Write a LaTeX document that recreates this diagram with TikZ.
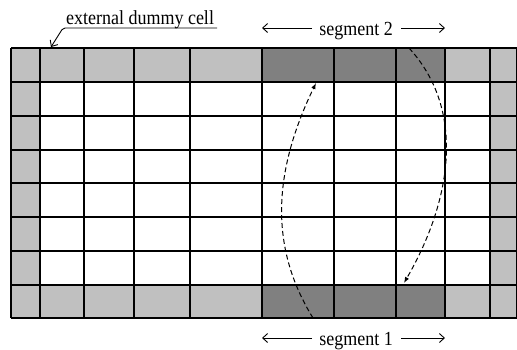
\documentclass[tikz,border=0pt]{standalone}
\usepackage{fontspec}
\setmainfont{Liberation Serif}
\usetikzlibrary{arrows.meta}
\definecolor{dummygray}{HTML}{C0C0C0}
\definecolor{seggray}{HTML}{808080}
% narrow setting of the label text
\newcommand{\narrowtext}[1]{\scalebox{0.9}[1]{#1}}
\begin{document}
\begin{tikzpicture}[x=1pt,y=-1pt,
  gridline/.style={line width=1.2pt,black},
  lbl/.style={inner sep=0pt,anchor=base,font=\fontsize{20}{22}\selectfont},
  spanarrow/.style={line width=0.9pt,-{Straight Barb[length=5pt,width=9pt]}},
  swaparrow/.style={line width=1pt,dash pattern=on 5pt off 3pt,-{Latex[length=6pt,width=4.5pt]}},
  leader/.style={line width=0.9pt,rounded corners=2pt,-{Straight Barb[length=5pt,width=9pt]}}]
\useasboundingbox (0,0) rectangle (517,349);

% cell fills: dummy frame, interior, and the two exchanged segments
\fill[dummygray] (11,48) rectangle (516.5,318);
\fill[white] (40,82) rectangle (490,285);
\fill[seggray] (262,48) rectangle (445,82);
\fill[seggray] (262,285) rectangle (445,318);

% grid lines
\foreach \gx in {11,40,84,134,190,262,334,396,445,490,516.5}
  \draw[gridline] (\gx,48) -- (\gx,318);
\foreach \gy in {48,82,116,150,183,217,251,285,318}
  \draw[gridline] (11,\gy) -- (516.5,\gy);

% label for the dummy cells with its leader line
\node[lbl] (dummy) at (140,24) {\narrowtext{external dummy cell}};
\coordinate (dummyend) at (217,28);
\coordinate (dummytip) at (51,47);
\draw[leader] (dummyend) -- (63,28) -- (dummytip);

% segment labels with span arrows
\node[lbl] (seg2) at (356,35) {\narrowtext{segment 2}};
\node[lbl] (seg1) at (356,345) {\narrowtext{segment 1}};
\coordinate (s2l) at (262,28);
\coordinate (s2r) at (445,28);
\coordinate (s1l) at (262,338);
\coordinate (s1r) at (445,338);
\draw[spanarrow] (312,28) -- (s2l);
\draw[spanarrow] (401,28) -- (s2r);
\draw[spanarrow] (312,338) -- (s1l);
\draw[spanarrow] (401,338) -- (s1r);

% exchange paths between the segments
\coordinate (up0) at (313,318);
\coordinate (up1) at (316,83);
\coordinate (dn0) at (409,48);
\coordinate (dn1) at (404,283);
\draw[swaparrow] (up0) .. controls (271,250) and (271,176) .. (up1);
\draw[swaparrow] (dn0) .. controls (466,110) and (452,200) .. (dn1);
\end{tikzpicture}
\end{document}
